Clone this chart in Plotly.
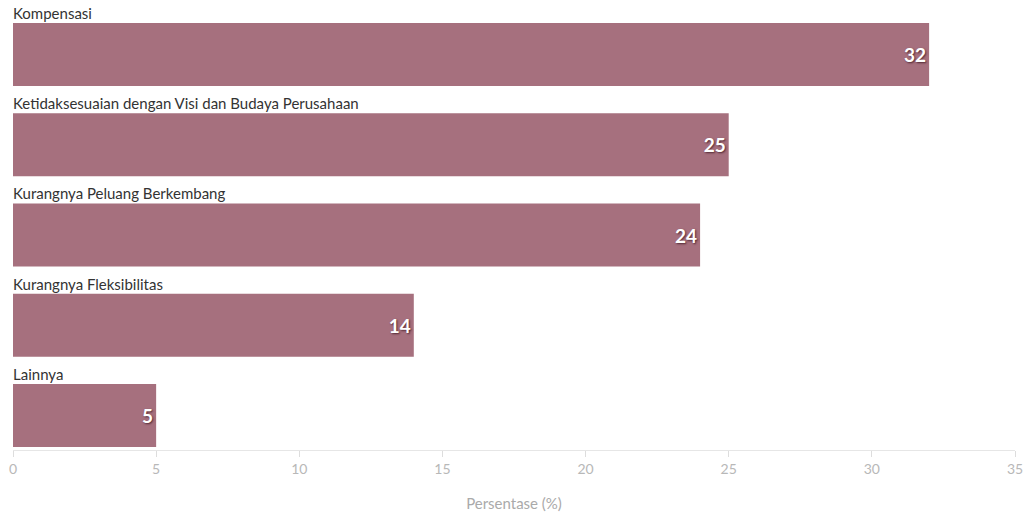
import plotly.graph_objects as go

categories = ["Kompensasi", "Ketidaksesuaian dengan Visi dan Budaya Perusahaan",
              "Kurangnya Peluang Berkembang", "Kurangnya Fleksibilitas", "Lainnya"]
values = [32, 25, 24, 14, 5]
x_ticks = [0, 5, 10, 15, 20, 25, 30, 35]

FONT = "Lato"
pos = list(range(len(categories)))

fig = go.Figure(go.Bar(
    x=values, y=pos, orientation="h", width=0.7,
    marker=dict(color="#a6707e", line=dict(width=0)),
    text=[str(v) for v in values], textposition="inside", insidetextanchor="end",
    textfont=dict(family=FONT, size=19, color="white", weight="bold",
                  shadow="1px 1px 2px rgba(60,20,30,0.8)"),
    cliponaxis=False, hoverinfo="skip",
))

for i, c in enumerate(categories):
    fig.add_annotation(x=0, xref="x", y=i - 0.35, yref="y", text=c, showarrow=False,
                       xanchor="left", yanchor="bottom", yshift=-1, xshift=-2,
                       font=dict(family=FONT, size=15, color="#333333"))

fig.update_layout(
    width=1024, height=517, margin=dict(l=13, r=9, t=0, b=67, autoexpand=False),
    paper_bgcolor="white", plot_bgcolor="white", showlegend=False,
    font=dict(family=FONT),
    xaxis=dict(range=[0, 35], tickvals=x_ticks, showgrid=False, zeroline=False,
               automargin=False,
               showline=True, linecolor="#e6e6e6", linewidth=1,
               ticks="outside", ticklen=6, tickcolor="#dddddd",
               tickfont=dict(family=FONT, size=14, color="#b8b8b8"),
               title=dict(text="Persentase (%)", standoff=22,
                          font=dict(family=FONT, size=15, color="#aaaaaa"))),
    yaxis=dict(range=[4.382, -0.604], showticklabels=False, showgrid=False,
               automargin=False,
               zeroline=False, showline=False, ticks=""),
)

fig.write_html("out.html", config={"displayModeBar": False},
               post_script="document.body.style.margin='0';document.body.style.overflow='hidden';")
